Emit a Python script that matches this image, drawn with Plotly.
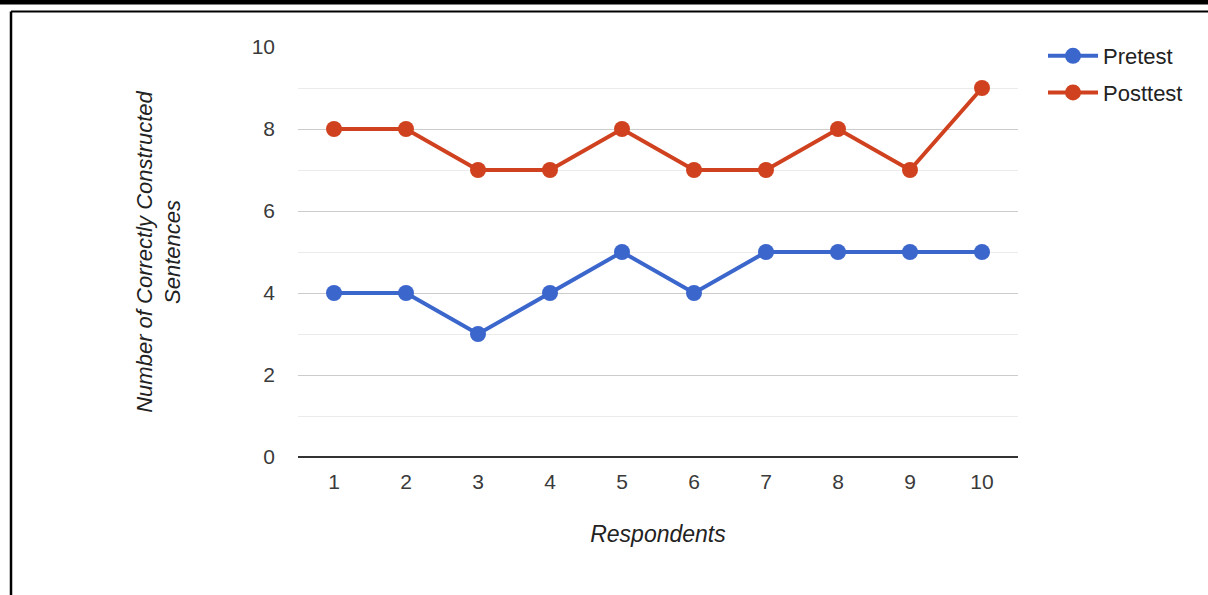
import plotly.graph_objects as go

respondents = [1, 2, 3, 4, 5, 6, 7, 8, 9, 10]
pretest = [4, 4, 3, 4, 5, 4, 5, 5, 5, 5]
posttest = [8, 8, 7, 7, 8, 7, 7, 8, 7, 9]
y_ticks = [0, 2, 4, 6, 8, 10]

W, H = 1208, 595
ML, MR, MT, MB = 298, 190, 47, 138
pw, ph = W - ML - MR, H - MT - MB

def px(x):
    return (x - ML) / pw

def py(y):
    return (H - MB - y) / ph

BLUE = "#3B66CC"
RED = "#D0421F"
FONT = "Liberation Sans, Arial, sans-serif"
TICK_FONT = dict(family=FONT, size=21, color="#3a3a3a")

fig = go.Figure()
fig.add_trace(go.Scatter(
    x=respondents, y=pretest, name="Pretest", mode="lines+markers", legendgroup="pre",
    line=dict(color=BLUE, width=4), marker=dict(color=BLUE, size=16),
))
fig.add_trace(go.Scatter(
    x=respondents, y=posttest, name="Posttest", mode="lines+markers", legendgroup="post",
    line=dict(color=RED, width=4), marker=dict(color=RED, size=16),
))

shapes = [
    # thick black band across the top
    dict(type="rect", xref="paper", yref="paper", x0=px(0), x1=px(W), y0=py(0), y1=py(4.5),
         fillcolor="black", line=dict(width=0), layer="above"),
    # frame lines (top and left)
    dict(type="line", xref="paper", yref="paper", x0=px(11), x1=px(W), y0=py(11.5), y1=py(11.5),
         line=dict(color="black", width=2)),
    dict(type="line", xref="paper", yref="paper", x0=px(11), x1=px(11), y0=py(11.5), y1=py(H),
         line=dict(color="black", width=2.5)),
]

fig.update_layout(
    width=W, height=H,
    margin=dict(l=ML, r=MR, t=MT, b=MB),
    paper_bgcolor="white", plot_bgcolor="white",
    font=dict(family=FONT, color="#3a3a3a", size=20),
    shapes=shapes,
    legend=dict(
        x=px(1043), y=py(35), xanchor="left", yanchor="top",
        font=dict(size=22, color="#222"), itemwidth=50,
        traceorder="grouped", tracegroupgap=5, bgcolor="rgba(0,0,0,0)",
    ),
    xaxis=dict(
        type="linear", range=[0.5, 10.5], tickvals=respondents,
        ticktext=[str(r) for r in respondents], tickfont=TICK_FONT,
        showgrid=False, zeroline=False, showline=False,
        ticks="", ticklabelstandoff=10,
        title=dict(text="<i>Respondents</i>", font=dict(size=23, color="#222"), standoff=33),
    ),
    yaxis=dict(
        range=[0, 10], tickvals=y_ticks, ticktext=[str(t) for t in y_ticks],
        tickfont=TICK_FONT,
        showgrid=True, gridcolor="#CCCCCC", gridwidth=1,
        zeroline=True, zerolinecolor="#333", zerolinewidth=2,
        minor=dict(dtick=1, showgrid=True, gridcolor="#EBEBEB", gridwidth=1),
        ticks="", ticklabelstandoff=22,
        title=dict(text="<i>Number of Correctly Constructed<br>Sentences</i>",
                   font=dict(size=22, color="#222"), standoff=64),
    ),
)

fig.write_html("out.html")
